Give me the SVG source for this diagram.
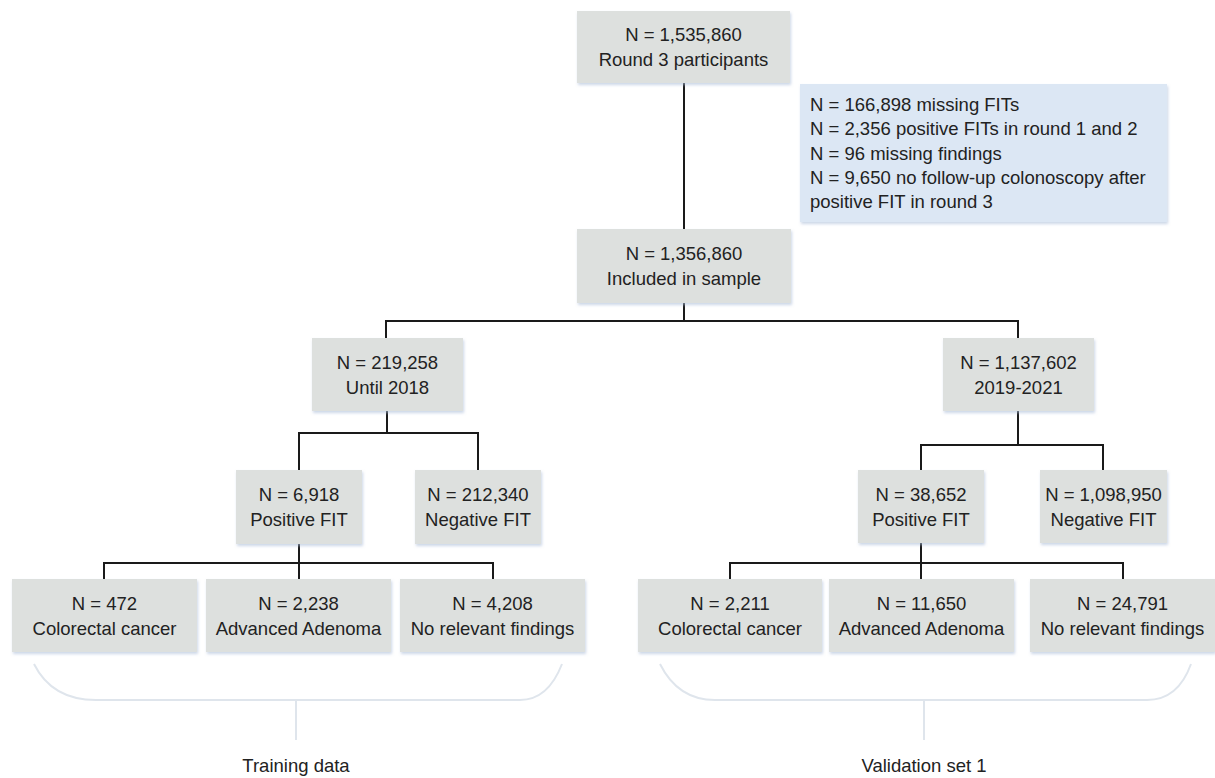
<svg xmlns="http://www.w3.org/2000/svg" width="1215" height="778" viewBox="0 0 1215 778">
<defs>
<filter id="sh" x="-5%" y="-10%" width="115%" height="130%">
<feDropShadow dx="1" dy="2" stdDeviation="1.5" flood-color="#a9bcd8" flood-opacity="0.6"/>
</filter>
<style>
.box{fill:#dde0de;filter:url(#sh)}
.note{fill:#dce7f4;filter:url(#sh)}
text{font-family:"Liberation Sans",Arial,sans-serif;font-size:18.5px;fill:#222}
.c{text-anchor:middle}
.ln{fill:none;stroke:#1a1a1a;stroke-width:2}
.br{fill:none;stroke:#dfe5ec;stroke-width:2}
</style>
</defs>
<rect width="1215" height="778" fill="#fff"/>

<g id="connectors">
<path class="ln" d="M684 83V229"/>
<path class="ln" d="M684 303V321M386 338V321H1018V338"/>
<path class="ln" d="M387 411V433M299 470V433H478V470"/>
<path class="ln" d="M1018 411V445M921 470V445H1103V470"/>
<path class="ln" d="M299 544V563M104 579V563H493V579M299 563V579"/>
<path class="ln" d="M921 543V563M730 579V563H1123V579M921 563V579"/>
</g>

<g id="n1"><rect class="box" x="577" y="11" width="213" height="72"/>
<text class="c" x="683.5" y="41">N = 1,535,860</text><text class="c" x="683.5" y="66">Round 3 participants</text></g>

<g id="excl"><rect class="note" x="800" y="84" width="367" height="138"/>
<text x="810" y="111">N = 166,898 missing FITs</text>
<text x="810" y="135.3">N = 2,356 positive FITs in round 1 and 2</text>
<text x="810" y="159.6">N = 96 missing findings</text>
<text x="810" y="183.9">N = 9,650 no follow-up colonoscopy after</text>
<text x="810" y="208.2">positive FIT in round 3</text></g>

<g id="n2"><rect class="box" x="577" y="229" width="214" height="74"/>
<text class="c" x="684" y="260">N = 1,356,860</text><text class="c" x="684" y="285">Included in sample</text></g>

<g id="n3"><rect class="box" x="312" y="338" width="151" height="73"/>
<text class="c" x="387.5" y="368.5">N = 219,258</text><text class="c" x="387.5" y="393.5">Until 2018</text></g>

<g id="n4"><rect class="box" x="943" y="338" width="151" height="73"/>
<text class="c" x="1018.5" y="368.5">N = 1,137,602</text><text class="c" x="1018.5" y="393.5">2019-2021</text></g>

<g id="n5"><rect class="box" x="236" y="470" width="126" height="74"/>
<text class="c" x="299" y="501">N = 6,918</text><text class="c" x="299" y="526">Positive FIT</text></g>

<g id="n6"><rect class="box" x="415" y="470" width="126" height="74"/>
<text class="c" x="478" y="501">N = 212,340</text><text class="c" x="478" y="526">Negative FIT</text></g>

<g id="n7"><rect class="box" x="858" y="470" width="126" height="73"/>
<text class="c" x="921" y="500.5">N = 38,652</text><text class="c" x="921" y="525.5">Positive FIT</text></g>

<g id="n8"><rect class="box" x="1040" y="470" width="127" height="73"/>
<text class="c" x="1103.5" y="500.5">N = 1,098,950</text><text class="c" x="1103.5" y="525.5">Negative FIT</text></g>

<g id="n9"><rect class="box" x="12" y="579" width="185" height="73"/>
<text class="c" x="104.5" y="609.5">N = 472</text><text class="c" x="104.5" y="634.5">Colorectal cancer</text></g>

<g id="n10"><rect class="box" x="206" y="579" width="185" height="73"/>
<text class="c" x="298.5" y="609.5">N = 2,238</text><text class="c" x="298.5" y="634.5">Advanced Adenoma</text></g>

<g id="n11"><rect class="box" x="400" y="579" width="185" height="73"/>
<text class="c" x="492.5" y="609.5">N = 4,208</text><text class="c" x="492.5" y="634.5">No relevant findings</text></g>

<g id="n12"><rect class="box" x="638" y="579" width="184" height="73"/>
<text class="c" x="730" y="609.5">N = 2,211</text><text class="c" x="730" y="634.5">Colorectal cancer</text></g>

<g id="n13"><rect class="box" x="829" y="579" width="185" height="73"/>
<text class="c" x="921.5" y="609.5">N = 11,650</text><text class="c" x="921.5" y="634.5">Advanced Adenoma</text></g>

<g id="n14"><rect class="box" x="1030" y="579" width="185" height="73"/>
<text class="c" x="1122.5" y="609.5">N = 24,791</text><text class="c" x="1122.5" y="634.5">No relevant findings</text></g>

<g id="brace-left"><path class="br" d="M34 664Q52 700 96 700H520Q548 700 562 664M296 700V740"/>
<text class="c" x="296" y="772">Training data</text></g>

<g id="brace-right"><path class="br" d="M660 664Q678 700 715 700H1147Q1178 700 1191 664M924 700V740"/>
<text class="c" x="924" y="772">Validation set 1</text></g>
</svg>
